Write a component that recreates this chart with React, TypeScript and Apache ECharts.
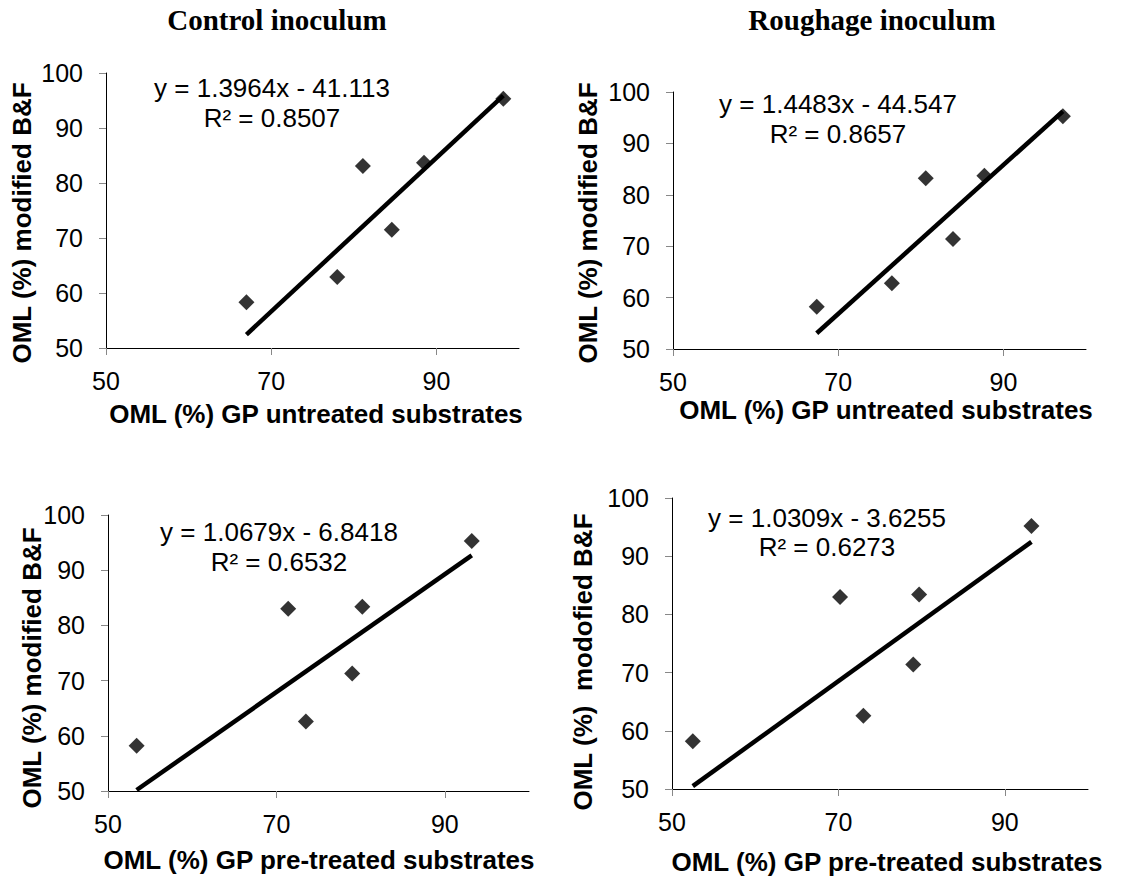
import React, { useEffect, useRef } from "react";
import * as echarts from "echarts";

// ---- data ----
const panelTitles = ["Control inoculum", "Roughage inoculum"];

const xAxisTitles = [
  "OML (%) GP untreated substrates",
  "OML (%) GP untreated substrates",
  "OML (%) GP pre-treated substrates",
  "OML (%) GP pre-treated substrates",
];
const yAxisTitles = [
  "OML (%) modified B&F",
  "OML (%) modified B&F",
  "OML (%) modified B&F",
  "OML (%)  modofied B&F",
];

const xTickValues = [50, 70, 90];

// Panel A: control inoculum, untreated substrates
const controlUntreatedX = [67.0, 78.0, 81.1, 84.6, 88.5, 98.1];
const controlUntreatedY = [58.3, 62.9, 83.1, 71.5, 83.7, 95.3];
// Panel B: roughage inoculum, untreated substrates
const roughageUntreatedX = [67.4, 76.5, 80.6, 83.9, 87.7, 97.2];
const roughageUntreatedY = [58.2, 62.8, 83.2, 71.4, 83.7, 95.3];
// Panel C: control inoculum, pre-treated substrates
const controlPretreatedX = [53.4, 73.5, 71.4, 79.0, 80.2, 93.2];
const controlPretreatedY = [58.2, 62.6, 83.0, 71.3, 83.4, 95.3];
// Panel D: roughage inoculum, pre-treated substrates
const roughagePretreatedX = [52.5, 73.0, 70.2, 79.0, 79.7, 93.2];
const roughagePretreatedY = [58.2, 62.6, 83.0, 71.4, 83.4, 95.2];

const trendSlopes = [1.3964, 1.4483, 1.0679, 1.0309];
const trendIntercepts = [-41.113, -44.547, -6.8418, -3.6255];
const rSquared = ["0.8507", "0.8657", "0.6532", "0.6273"];
const slopeLabels = ["1.3964", "1.4483", "1.0679", "1.0309"];
const interceptLabels = ["41.113", "44.547", "6.8418", "3.6255"];

// ---- layout (pixels) ----
const grids = [
  { left: 106, top: 73, width: 413, height: 275 },
  { left: 673, top: 92, width: 413, height: 257 },
  { left: 108, top: 515, width: 421, height: 276 },
  { left: 672, top: 498, width: 416, height: 291 },
];
const panelTitlePos = [
  { x: 277, y: 20 },
  { x: 872, y: 20 },
];
const eqPos = [
  { x: 272, y: 88, ry: 117.5 },
  { x: 838, y: 103.5, ry: 134 },
  { x: 279, y: 532, ry: 562 },
  { x: 827, y: 517.5, ry: 547 },
];
const xTitlePos = [
  { x: 316, y: 414 },
  { x: 886, y: 410 },
  { x: 319, y: 860 },
  { x: 887, y: 862 },
];
const yTitlePos = [
  { x: 22, y: 223 },
  { x: 588, y: 223 },
  { x: 32, y: 668 },
  { x: 583, y: 662 },
];

const SANS = "Liberation Sans";
const SERIF = "Liberation Serif";

export default function App() {
  const ref = useRef<HTMLDivElement>(null);

  useEffect(() => {
    if (!ref.current) return;
    const chart = echarts.init(ref.current, undefined, { renderer: "svg" });

    const xs = [controlUntreatedX, roughageUntreatedX, controlPretreatedX, roughagePretreatedX];
    const ys = [controlUntreatedY, roughageUntreatedY, controlPretreatedY, roughagePretreatedY];

    const series: any[] = [];
    xs.forEach((xArr, i) => {
      const pts = xArr.map((x, k) => [x, ys[i][k]]);
      const minX = Math.min(...xArr);
      const maxX = Math.max(...xArr);
      series.push({
        type: "line",
        xAxisIndex: i,
        yAxisIndex: i,
        data: [
          [minX, trendSlopes[i] * minX + trendIntercepts[i]],
          [maxX, trendSlopes[i] * maxX + trendIntercepts[i]],
        ],
        symbol: "none",
        lineStyle: { color: "#000", width: 4.5, cap: "butt" },
        z: 2,
        silent: true,
      });
      series.push({
        type: "scatter",
        xAxisIndex: i,
        yAxisIndex: i,
        data: pts,
        symbol: "diamond",
        symbolSize: 16,
        itemStyle: { color: "#000" },
        z: 3,
      });
    });

    const xAxes = grids.map((_, i) => ({
      type: "value",
      gridIndex: i,
      min: 50,
      max: 100,
      interval: 20,
      axisLine: { show: true, onZero: false, lineStyle: { color: "#000", width: 1 } },
      axisTick: {
        show: true,
        inside: false,
        length: 7,
        customValues: xTickValues,
        lineStyle: { color: "#888", width: 1 },
      },
      axisLabel: {
        show: true,
        customValues: xTickValues,
        margin: 20,
        fontSize: 25,
        fontFamily: SANS,
        color: "#000",
      },
      splitLine: { show: false },
    }));

    const yAxes = grids.map((_, i) => ({
      type: "value",
      gridIndex: i,
      min: 50,
      max: 100,
      interval: 10,
      axisLine: { show: true, onZero: false, lineStyle: { color: "#000", width: 1 } },
      axisTick: { show: true, inside: false, length: 7, lineStyle: { color: "#888", width: 1 } },
      axisLabel: {
        show: true,
        margin: 23,
        fontSize: 25,
        fontFamily: SANS,
        color: "#000",
      },
      splitLine: { show: false },
    }));

    const graphic: any[] = [];
    panelTitles.forEach((t, i) => {
      graphic.push({
        type: "text",
        x: panelTitlePos[i].x,
        y: panelTitlePos[i].y,
        style: {
          text: t,
          fontSize: 29,
          fontWeight: "bold",
          fontFamily: SERIF,
          fill: "#000",
          align: "center",
          verticalAlign: "middle",
        },
      });
    });
    grids.forEach((_, i) => {
      graphic.push({
        type: "text",
        x: eqPos[i].x,
        y: eqPos[i].y,
        style: {
          text: `y = ${slopeLabels[i]}x - ${interceptLabels[i]}`,
          fontSize: 26,
          fontFamily: SANS,
          fill: "#000",
          align: "center",
          verticalAlign: "middle",
        },
      });
      graphic.push({
        type: "text",
        x: eqPos[i].x,
        y: eqPos[i].ry,
        style: {
          text: `R² = ${rSquared[i]}`,
          fontSize: 26,
          fontFamily: SANS,
          fill: "#000",
          align: "center",
          verticalAlign: "middle",
        },
      });
      graphic.push({
        type: "text",
        x: xTitlePos[i].x,
        y: xTitlePos[i].y,
        style: {
          text: xAxisTitles[i],
          fontSize: 26,
          fontWeight: "bold",
          fontFamily: SANS,
          fill: "#000",
          align: "center",
          verticalAlign: "middle",
        },
      });
      graphic.push({
        type: "text",
        x: yTitlePos[i].x,
        y: yTitlePos[i].y,
        rotation: Math.PI / 2,
        style: {
          text: yAxisTitles[i],
          fontSize: 26,
          fontWeight: "bold",
          fontFamily: SANS,
          fill: "#000",
          align: "center",
          verticalAlign: "middle",
        },
      });
    });

    chart.setOption({
      animation: false,
      backgroundColor: "#fff",
      grid: grids.map((g) => ({ ...g, containLabel: false })),
      xAxis: xAxes,
      yAxis: yAxes,
      series,
      graphic,
    });

    return () => {
      chart.dispose();
    };
  }, []);

  return (
    <div
      ref={ref}
      style={{ position: "absolute", left: 0, top: 0, width: 1121, height: 876, background: "#fff" }}
    />
  );
}
